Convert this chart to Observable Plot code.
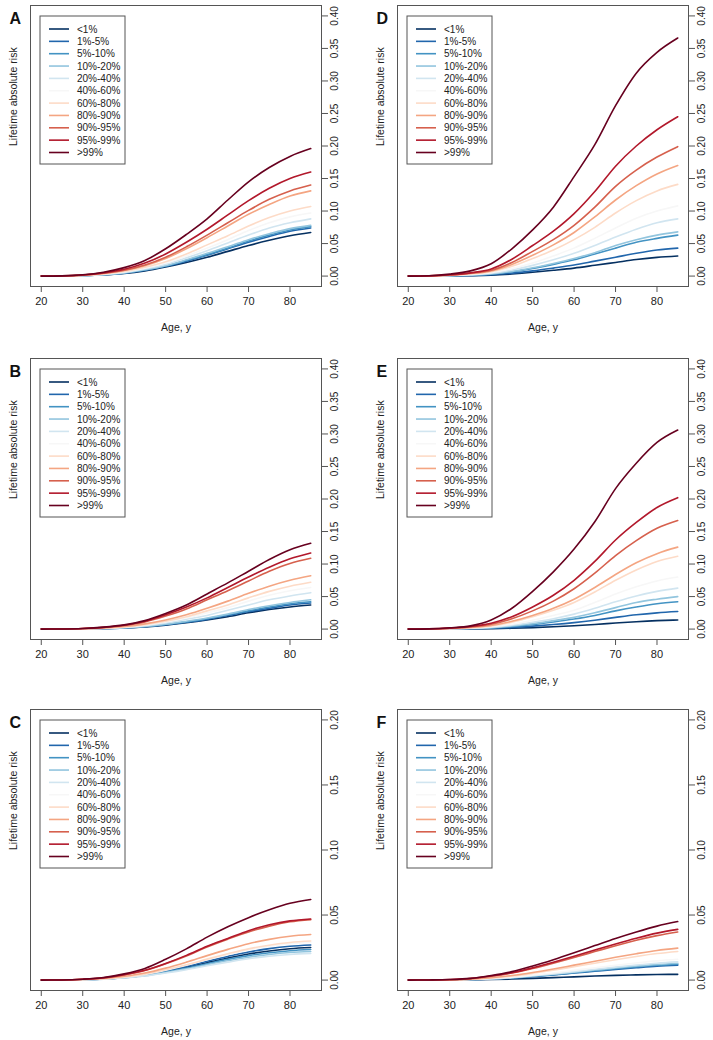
<!DOCTYPE html>
<html>
<head>
<meta charset="utf-8">
<script src="https://cdn.jsdelivr.net/npm/d3@7"></script>
<script src="https://cdn.jsdelivr.net/npm/@observablehq/plot@0.6"></script>
<style>
  body { margin: 0; background: #fff; }
  #root { position: relative; width: 713px; height: 1040px; overflow: hidden; }
  .panel { position: absolute; }
</style>
</head>
<body>
<div id="root"></div>
<script>
const ages = [20, 25, 30, 35, 40, 45, 50, 55, 60, 65, 70, 75, 80, 85];
const groups = ["<1%", "1%-5%", "5%-10%", "10%-20%", "20%-40%", "40%-60%", "60%-80%", "80%-90%", "90%-95%", "95%-99%", ">99%"];
const colors = ["#053061", "#2166AC", "#4393C3", "#92C5DE", "#D1E5F0", "#F7F7F7", "#FDDBC7", "#F4A582", "#D6604D", "#B2182B", "#67001F"];
const xTicks = [20, 30, 40, 50, 60, 70, 80];
const yTicksWide = [0, 0.05, 0.10, 0.15, 0.20, 0.25, 0.30, 0.35, 0.40];
const yTicksNarrow = [0, 0.05, 0.10, 0.15, 0.20];
const yLabel = "Lifetime absolute risk";
const xLabel = "Age, y";

// Panel A (one row per group, values at the ages above)
const riskA = [
  [0, 0.0002, 0.0008, 0.002, 0.004, 0.008, 0.014, 0.021, 0.029, 0.038, 0.047, 0.055, 0.062, 0.067],
  [0, 0.0002, 0.0008, 0.002, 0.0045, 0.009, 0.015, 0.023, 0.032, 0.042, 0.052, 0.061, 0.069, 0.074],
  [0, 0.0002, 0.0009, 0.0022, 0.0047, 0.0093, 0.0155, 0.024, 0.033, 0.043, 0.054, 0.063, 0.071, 0.076],
  [0, 0.0002, 0.0009, 0.0023, 0.005, 0.0097, 0.016, 0.025, 0.035, 0.045, 0.056, 0.065, 0.073, 0.078],
  [0, 0.0002, 0.001, 0.0026, 0.0057, 0.011, 0.018, 0.028, 0.039, 0.051, 0.063, 0.074, 0.082, 0.088],
  [0, 0.0003, 0.0011, 0.003, 0.0063, 0.012, 0.02, 0.031, 0.043, 0.056, 0.07, 0.082, 0.091, 0.097],
  [0, 0.0003, 0.0012, 0.0033, 0.007, 0.0135, 0.022, 0.034, 0.048, 0.062, 0.077, 0.09, 0.1, 0.107],
  [0, 0.0003, 0.0014, 0.004, 0.0085, 0.016, 0.027, 0.042, 0.059, 0.077, 0.095, 0.11, 0.123, 0.131],
  [0, 0.0003, 0.0015, 0.0043, 0.009, 0.017, 0.029, 0.045, 0.063, 0.082, 0.101, 0.118, 0.131, 0.140],
  [0, 0.0004, 0.0017, 0.005, 0.0105, 0.02, 0.034, 0.052, 0.072, 0.094, 0.116, 0.135, 0.150, 0.160],
  [0, 0.0004, 0.002, 0.006, 0.013, 0.024, 0.042, 0.064, 0.088, 0.117, 0.145, 0.167, 0.184, 0.196]
];
// Panel B
const riskB = [
  [0, 0.0001, 0.0003, 0.0007, 0.0017, 0.0034, 0.0061, 0.0097, 0.014, 0.019, 0.025, 0.03, 0.034, 0.037],
  [0, 0.0001, 0.0003, 0.0008, 0.0018, 0.0037, 0.0066, 0.0105, 0.015, 0.021, 0.027, 0.032, 0.037, 0.040],
  [0, 0.0001, 0.0003, 0.0008, 0.0019, 0.0039, 0.007, 0.011, 0.016, 0.022, 0.028, 0.034, 0.039, 0.042],
  [0, 0.0001, 0.0003, 0.0009, 0.0021, 0.0042, 0.0075, 0.012, 0.017, 0.023, 0.03, 0.036, 0.041, 0.045],
  [0, 0.0001, 0.0004, 0.0011, 0.0026, 0.0052, 0.0093, 0.015, 0.021, 0.029, 0.037, 0.045, 0.051, 0.056],
  [0, 0.0001, 0.0004, 0.0013, 0.003, 0.006, 0.011, 0.017, 0.025, 0.033, 0.043, 0.052, 0.059, 0.064],
  [0, 0.0001, 0.0005, 0.0015, 0.0034, 0.0068, 0.012, 0.019, 0.028, 0.037, 0.048, 0.058, 0.066, 0.072],
  [0, 0.0001, 0.0006, 0.0018, 0.004, 0.008, 0.014, 0.022, 0.032, 0.043, 0.055, 0.066, 0.075, 0.082],
  [0, 0.0002, 0.0009, 0.0025, 0.0056, 0.011, 0.02, 0.031, 0.045, 0.059, 0.074, 0.089, 0.101, 0.109],
  [0, 0.0002, 0.0009, 0.0027, 0.006, 0.012, 0.022, 0.034, 0.048, 0.064, 0.08, 0.095, 0.108, 0.117],
  [0, 0.0002, 0.001, 0.003, 0.0065, 0.013, 0.024, 0.037, 0.054, 0.071, 0.089, 0.107, 0.122, 0.132]
];
// Panel C
const riskC = [
  [0, 0.0001, 0.0003, 0.0008, 0.002, 0.0038, 0.0066, 0.0098, 0.0134, 0.0169, 0.02, 0.0224, 0.0241, 0.025],
  [0, 0.0001, 0.0003, 0.0009, 0.0022, 0.0041, 0.0071, 0.0106, 0.0145, 0.0182, 0.0216, 0.0242, 0.026, 0.027],
  [0, 0.0001, 0.0003, 0.0008, 0.0019, 0.0036, 0.0062, 0.0092, 0.0126, 0.0159, 0.0188, 0.021, 0.0226, 0.0235],
  [0, 0.0001, 0.0003, 0.0007, 0.0018, 0.0033, 0.0058, 0.0086, 0.0118, 0.0149, 0.0176, 0.0197, 0.0212, 0.022],
  [0, 0.0001, 0.0002, 0.0007, 0.0016, 0.0031, 0.0054, 0.008, 0.011, 0.0138, 0.0164, 0.0183, 0.0197, 0.0205],
  [0, 0.0001, 0.0003, 0.001, 0.0024, 0.0044, 0.0076, 0.0114, 0.0156, 0.0196, 0.0232, 0.026, 0.028, 0.029],
  [0, 0.0001, 0.0004, 0.001, 0.0025, 0.0046, 0.0079, 0.0118, 0.0161, 0.0202, 0.024, 0.0268, 0.0289, 0.030],
  [0, 0.0001, 0.0004, 0.0012, 0.0029, 0.0054, 0.0092, 0.0138, 0.0188, 0.0236, 0.028, 0.0313, 0.0337, 0.035],
  [0, 0.0001, 0.0006, 0.0016, 0.004, 0.0073, 0.0125, 0.0185, 0.0255, 0.0315, 0.037, 0.0415, 0.0448, 0.0465],
  [0, 0.0001, 0.0006, 0.0017, 0.0041, 0.0075, 0.0128, 0.019, 0.026, 0.032, 0.038, 0.0425, 0.0455, 0.047],
  [0, 0.0001, 0.0007, 0.002, 0.0048, 0.009, 0.016, 0.024, 0.033, 0.041, 0.048, 0.054, 0.059, 0.062]
];
// Panel D
const riskD = [
  [0, 0.0001, 0.0003, 0.0007, 0.0015, 0.0033, 0.0058, 0.0089, 0.0123, 0.0166, 0.021, 0.0254, 0.0288, 0.031],
  [0, 0.0001, 0.0004, 0.001, 0.0021, 0.0046, 0.008, 0.0123, 0.017, 0.023, 0.029, 0.035, 0.04, 0.043],
  [0, 0.0001, 0.0006, 0.0015, 0.0031, 0.0067, 0.0118, 0.018, 0.025, 0.034, 0.043, 0.052, 0.058, 0.063],
  [0, 0.0001, 0.0006, 0.0016, 0.0033, 0.0072, 0.0128, 0.0195, 0.027, 0.036, 0.047, 0.056, 0.063, 0.068],
  [0, 0.0002, 0.0008, 0.002, 0.0043, 0.0093, 0.0165, 0.025, 0.035, 0.047, 0.06, 0.072, 0.082, 0.088],
  [0, 0.0002, 0.001, 0.0026, 0.0053, 0.0115, 0.02, 0.031, 0.043, 0.058, 0.074, 0.089, 0.1, 0.108],
  [0, 0.0003, 0.0013, 0.0033, 0.0068, 0.015, 0.027, 0.04, 0.056, 0.075, 0.097, 0.116, 0.131, 0.141],
  [0, 0.0003, 0.0015, 0.004, 0.008, 0.018, 0.032, 0.048, 0.067, 0.091, 0.117, 0.139, 0.157, 0.170],
  [0, 0.0003, 0.0017, 0.0045, 0.009, 0.021, 0.038, 0.056, 0.078, 0.106, 0.138, 0.163, 0.183, 0.199],
  [0, 0.0004, 0.002, 0.005, 0.011, 0.026, 0.047, 0.069, 0.096, 0.13, 0.169, 0.2, 0.225, 0.245],
  [0, 0.0005, 0.003, 0.008, 0.019, 0.042, 0.071, 0.106, 0.153, 0.202, 0.262, 0.312, 0.344, 0.366]
];
// Panel E
const riskE = [
  [0, 0, 0.0001, 0.0003, 0.0006, 0.0013, 0.0023, 0.0036, 0.0052, 0.0071, 0.0093, 0.0114, 0.013, 0.014],
  [0, 0.0001, 0.0002, 0.0005, 0.0012, 0.0025, 0.0045, 0.007, 0.01, 0.0137, 0.018, 0.022, 0.025, 0.027],
  [0, 0.0001, 0.0003, 0.0008, 0.0019, 0.0039, 0.007, 0.011, 0.0155, 0.021, 0.028, 0.034, 0.039, 0.042],
  [0, 0.0001, 0.0004, 0.001, 0.0022, 0.0047, 0.0084, 0.013, 0.018, 0.025, 0.033, 0.041, 0.046, 0.050],
  [0, 0.0001, 0.0005, 0.0013, 0.0028, 0.0059, 0.0106, 0.016, 0.023, 0.032, 0.042, 0.051, 0.058, 0.063],
  [0, 0.0001, 0.0006, 0.0016, 0.0036, 0.0075, 0.0135, 0.021, 0.029, 0.041, 0.054, 0.065, 0.074, 0.080],
  [0, 0.0002, 0.0009, 0.0022, 0.005, 0.0105, 0.019, 0.029, 0.041, 0.057, 0.075, 0.091, 0.104, 0.112],
  [0, 0.0002, 0.001, 0.0025, 0.0056, 0.012, 0.021, 0.032, 0.046, 0.064, 0.084, 0.102, 0.116, 0.126],
  [0, 0.0003, 0.0013, 0.0033, 0.0075, 0.016, 0.028, 0.043, 0.062, 0.086, 0.113, 0.136, 0.155, 0.167],
  [0, 0.0003, 0.0015, 0.004, 0.009, 0.019, 0.034, 0.052, 0.075, 0.104, 0.137, 0.164, 0.187, 0.202],
  [0, 0.0004, 0.002, 0.005, 0.014, 0.032, 0.058, 0.088, 0.123, 0.165, 0.216, 0.255, 0.287, 0.306]
];
// Panel F
const riskF = [
  [0, 0, 0, 0.0002, 0.0004, 0.0008, 0.0013, 0.0019, 0.0025, 0.0031, 0.0036, 0.004, 0.0043, 0.0044],
  [0, 0, 0.0001, 0.0003, 0.0008, 0.0016, 0.0027, 0.004, 0.0054, 0.0068, 0.0082, 0.0095, 0.0107, 0.0115],
  [0, 0, 0.0001, 0.0004, 0.0009, 0.0017, 0.0029, 0.0042, 0.0057, 0.0072, 0.0087, 0.0101, 0.0114, 0.0123],
  [0, 0, 0.0001, 0.0004, 0.0009, 0.0018, 0.0031, 0.0045, 0.0061, 0.0077, 0.0093, 0.0108, 0.0121, 0.013],
  [0, 0, 0.0001, 0.0004, 0.001, 0.002, 0.0033, 0.0048, 0.0065, 0.0083, 0.01, 0.0116, 0.013, 0.014],
  [0, 0, 0.0002, 0.0005, 0.0012, 0.0023, 0.0038, 0.0055, 0.0075, 0.0095, 0.0114, 0.0132, 0.0148, 0.016],
  [0, 0, 0.0002, 0.0006, 0.0016, 0.0031, 0.0052, 0.0076, 0.0103, 0.013, 0.0157, 0.0182, 0.0204, 0.022],
  [0, 0, 0.0002, 0.0007, 0.0018, 0.0035, 0.0058, 0.0085, 0.0115, 0.0145, 0.0175, 0.0203, 0.0228, 0.0246],
  [0, 0.0001, 0.0003, 0.0011, 0.0029, 0.0054, 0.0089, 0.013, 0.0174, 0.0219, 0.0264, 0.0306, 0.0342, 0.037],
  [0, 0.0001, 0.0004, 0.0012, 0.0031, 0.0057, 0.0094, 0.0137, 0.0183, 0.0231, 0.0278, 0.0322, 0.0361, 0.039],
  [0, 0.0001, 0.0004, 0.0013, 0.0035, 0.0065, 0.0108, 0.0157, 0.021, 0.0265, 0.032, 0.037, 0.0415, 0.045]
];

const panels = [
  {letter: "A", risk: riskA, ymax: 0.4, ticks: yTicksWide, left: 0, top: 0},
  {letter: "B", risk: riskB, ymax: 0.4, ticks: yTicksWide, left: 0, top: 353},
  {letter: "C", risk: riskC, ymax: 0.2, ticks: yTicksNarrow, left: 0, top: 704},
  {letter: "D", risk: riskD, ymax: 0.4, ticks: yTicksWide, left: 367, top: 0},
  {letter: "E", risk: riskE, ymax: 0.4, ticks: yTicksWide, left: 367, top: 353},
  {letter: "F", risk: riskF, ymax: 0.2, ticks: yTicksNarrow, left: 367, top: 704}
];

const W = 346, H = 336, ML = 30, MR = 25, MT = 5, MB = 50;
const font = "'Liberation Sans', Arial, Helvetica, sans-serif";
const ink = "#222";
const root = document.getElementById("root");

for (const p of panels) {
  const rows = [];
  p.risk.forEach((vals, gi) => vals.forEach((v, ai) => rows.push({group: groups[gi], age: ages[ai], risk: v})));
  const pad = p.ymax * 0.04;
  const chart = Plot.plot({
    width: W, height: H,
    marginLeft: ML, marginRight: MR, marginTop: MT, marginBottom: MB,
    style: {fontFamily: font, color: ink, background: "white"},
    x: {domain: [20 - 65 * 0.04, 85 + 65 * 0.04]},
    y: {domain: [-pad, p.ymax + pad]},
    color: {domain: groups, range: colors},
    marks: [
      Plot.line(rows, {x: "age", y: "risk", z: "group", stroke: "group", strokeWidth: 1.6, curve: "monotone-x"}),
      Plot.frame({stroke: "#555", strokeWidth: 1}),
      Plot.axisX({ticks: xTicks, tickSize: 6, tickPadding: 5, fontSize: 11, label: null, stroke: "#555"}),
      Plot.axisY({anchor: "right", ticks: p.ticks, tickFormat: d3.format(".2f"), tickSize: 6, tickRotate: -90,
                  lineAnchor: "top", tickPadding: 3, fontSize: 10, label: null, stroke: "#555"}),
      Plot.text([xLabel], {frameAnchor: "bottom", dy: 44, fontSize: 10.5, fill: ink}),
      Plot.text([yLabel], {frameAnchor: "left", dx: -17, rotate: -90, fontSize: 10.5, fill: ink}),
      Plot.text([p.letter], {frameAnchor: "top-left", dx: -21, dy: 7, fontSize: 16, fontWeight: "bold", fill: "#111"})
    ]
  });

  // Legend box (drawn inside the plot frame, top-left)
  const svg = d3.select(chart);
  const lg = svg.append("g").attr("transform", `translate(${ML + 10},${MT + 11})`)
    .attr("text-anchor", "start")
    .style("font-family", font).style("font-size", "10px");
  lg.append("rect").attr("width", 85).attr("height", 148).attr("fill", "white").attr("stroke", "#555");
  groups.forEach((name, i) => {
    const y = 13 + i * 12.35;
    lg.append("line").attr("x1", 9).attr("x2", 29).attr("y1", y).attr("y2", y)
      .attr("stroke", colors[i]).attr("stroke-width", 1.6);
    lg.append("text").attr("x", 37).attr("y", y).attr("dy", "0.35em")
      .attr("text-anchor", "start").attr("fill", ink).text(name);
  });

  const div = document.createElement("div");
  div.className = "panel";
  div.style.left = p.left + "px";
  div.style.top = p.top + "px";
  div.appendChild(chart);
  root.appendChild(div);
}
</script>
</body>
</html>
